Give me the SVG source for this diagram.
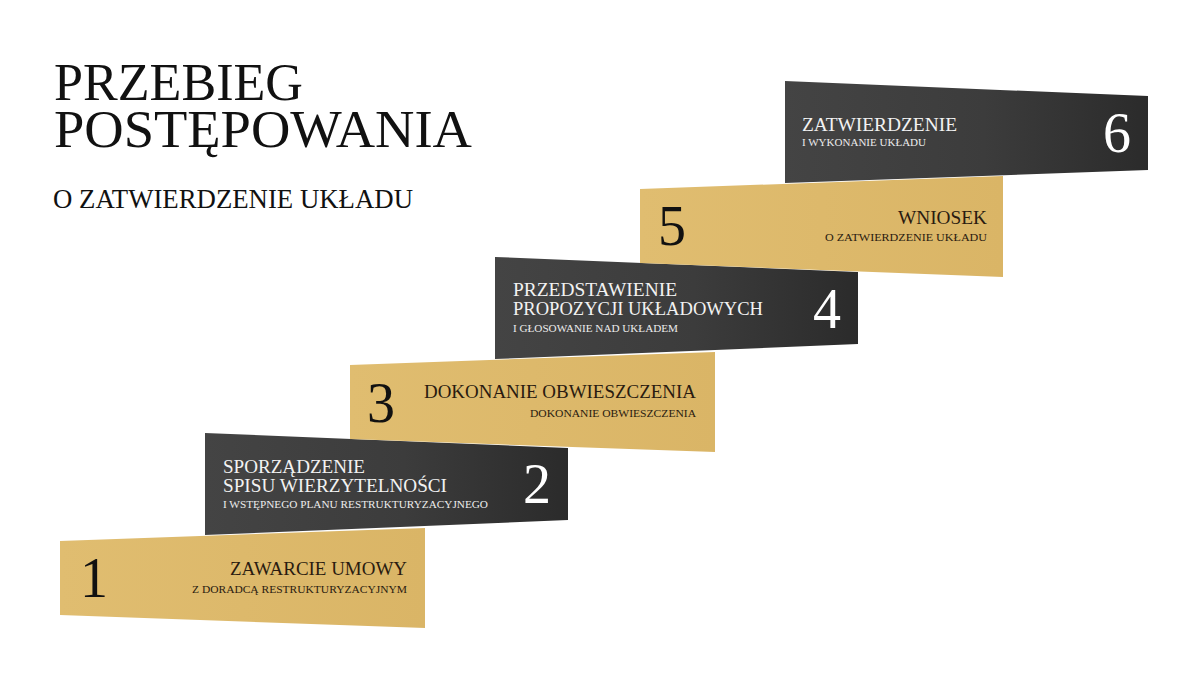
<svg xmlns="http://www.w3.org/2000/svg" width="1200" height="685" viewBox="0 0 1200 685">
<defs>
<linearGradient id="gDark" x1="0" y1="0" x2="1" y2="0">
<stop offset="0" stop-color="#444444"/>
<stop offset="0.55" stop-color="#3c3c3c"/>
<stop offset="1" stop-color="#2b2b2b"/>
</linearGradient>
<linearGradient id="gGold" x1="0" y1="0" x2="1" y2="0">
<stop offset="0" stop-color="#e0bd70"/>
<stop offset="1" stop-color="#dab566"/>
</linearGradient>
<style>
text{font-family:"Liberation Serif","Times New Roman",serif;}
.dark{fill:url(#gDark);}
.gold{fill:url(#gGold);}
.title{fill:#111;font-size:52px;}
.sub{fill:#111;font-size:27px;}
.lblD{fill:#f2f2f2;font-size:19px;}
.smD{fill:#ececec;font-size:11px;}
.lblG{fill:#2a1b10;font-size:19px;}
.smG{fill:#2a1b10;font-size:11px;}
.numD{fill:#ffffff;font-size:56px;}
.numG{fill:#111;font-size:56px;}
</style>
</defs>
<rect width="1200" height="685" fill="#ffffff"/>
<g id="title">
<text class="title" x="54" y="100" textLength="249" lengthAdjust="spacingAndGlyphs">PRZEBIEG</text>
<text class="title" x="54" y="147" textLength="418" lengthAdjust="spacingAndGlyphs">POSTĘPOWANIA</text>
<text class="sub" x="53" y="208" textLength="360" lengthAdjust="spacingAndGlyphs">O ZATWIERDZENIE UKŁADU</text>
</g>
<g id="step1">
<polygon class="gold" points="60,541 425,528 425,628 60,615"/>
<text class="numG" x="80" y="597">1</text>
<text class="lblG" x="407" y="575" text-anchor="end" textLength="177" lengthAdjust="spacingAndGlyphs">ZAWARCIE UMOWY</text>
<text class="smG" x="407" y="593" text-anchor="end" textLength="215" lengthAdjust="spacingAndGlyphs">Z DORADCĄ RESTRUKTURYZACYJNYM</text>
</g>
<g id="step2">
<polygon class="dark" points="205,433 568,448 568,520 205,535"/>
<text class="lblD" x="223" y="473" textLength="142" lengthAdjust="spacingAndGlyphs">SPORZĄDZENIE</text>
<text class="lblD" x="223" y="492" textLength="224" lengthAdjust="spacingAndGlyphs">SPISU WIERZYTELNOŚCI</text>
<text class="smD" x="223" y="508" textLength="265" lengthAdjust="spacingAndGlyphs">I WSTĘPNEGO PLANU RESTRUKTURYZACYJNEGO</text>
<text class="numD" x="551" y="503" text-anchor="end">2</text>
</g>
<g id="step3">
<polygon class="gold" points="350,365 715,352 715,452 350,439"/>
<text class="numG" x="367" y="422">3</text>
<text class="lblG" x="696" y="398" text-anchor="end" textLength="272" lengthAdjust="spacingAndGlyphs">DOKONANIE OBWIESZCZENIA</text>
<text class="smG" x="696" y="417" text-anchor="end" textLength="166" lengthAdjust="spacingAndGlyphs">DOKONANIE OBWIESZCZENIA</text>
</g>
<g id="step4">
<polygon class="dark" points="495,257 858,272 858,344 495,359"/>
<text class="lblD" x="513" y="296" textLength="164" lengthAdjust="spacingAndGlyphs">PRZEDSTAWIENIE</text>
<text class="lblD" x="513" y="315" textLength="250" lengthAdjust="spacingAndGlyphs">PROPOZYCJI UKŁADOWYCH</text>
<text class="smD" x="513" y="332" textLength="165" lengthAdjust="spacingAndGlyphs">I GŁOSOWANIE NAD UKŁADEM</text>
<text class="numD" x="841" y="328" text-anchor="end">4</text>
</g>
<g id="step5">
<polygon class="gold" points="640,189 1003,176 1003,277 640,263"/>
<text class="numG" x="658" y="245">5</text>
<text class="lblG" x="987" y="224" text-anchor="end" textLength="89" lengthAdjust="spacingAndGlyphs">WNIOSEK</text>
<text class="smG" x="987" y="241" text-anchor="end" textLength="162" lengthAdjust="spacingAndGlyphs">O ZATWIERDZENIE UKŁADU</text>
</g>
<g id="step6">
<polygon class="dark" points="785,81 1148,96 1148,170 785,183"/>
<text class="lblD" x="802" y="131" textLength="155" lengthAdjust="spacingAndGlyphs">ZATWIERDZENIE</text>
<text class="smD" x="802" y="146" textLength="124" lengthAdjust="spacingAndGlyphs">I WYKONANIE UKŁADU</text>
<text class="numD" x="1131" y="152" text-anchor="end">6</text>
</g>
</svg>
